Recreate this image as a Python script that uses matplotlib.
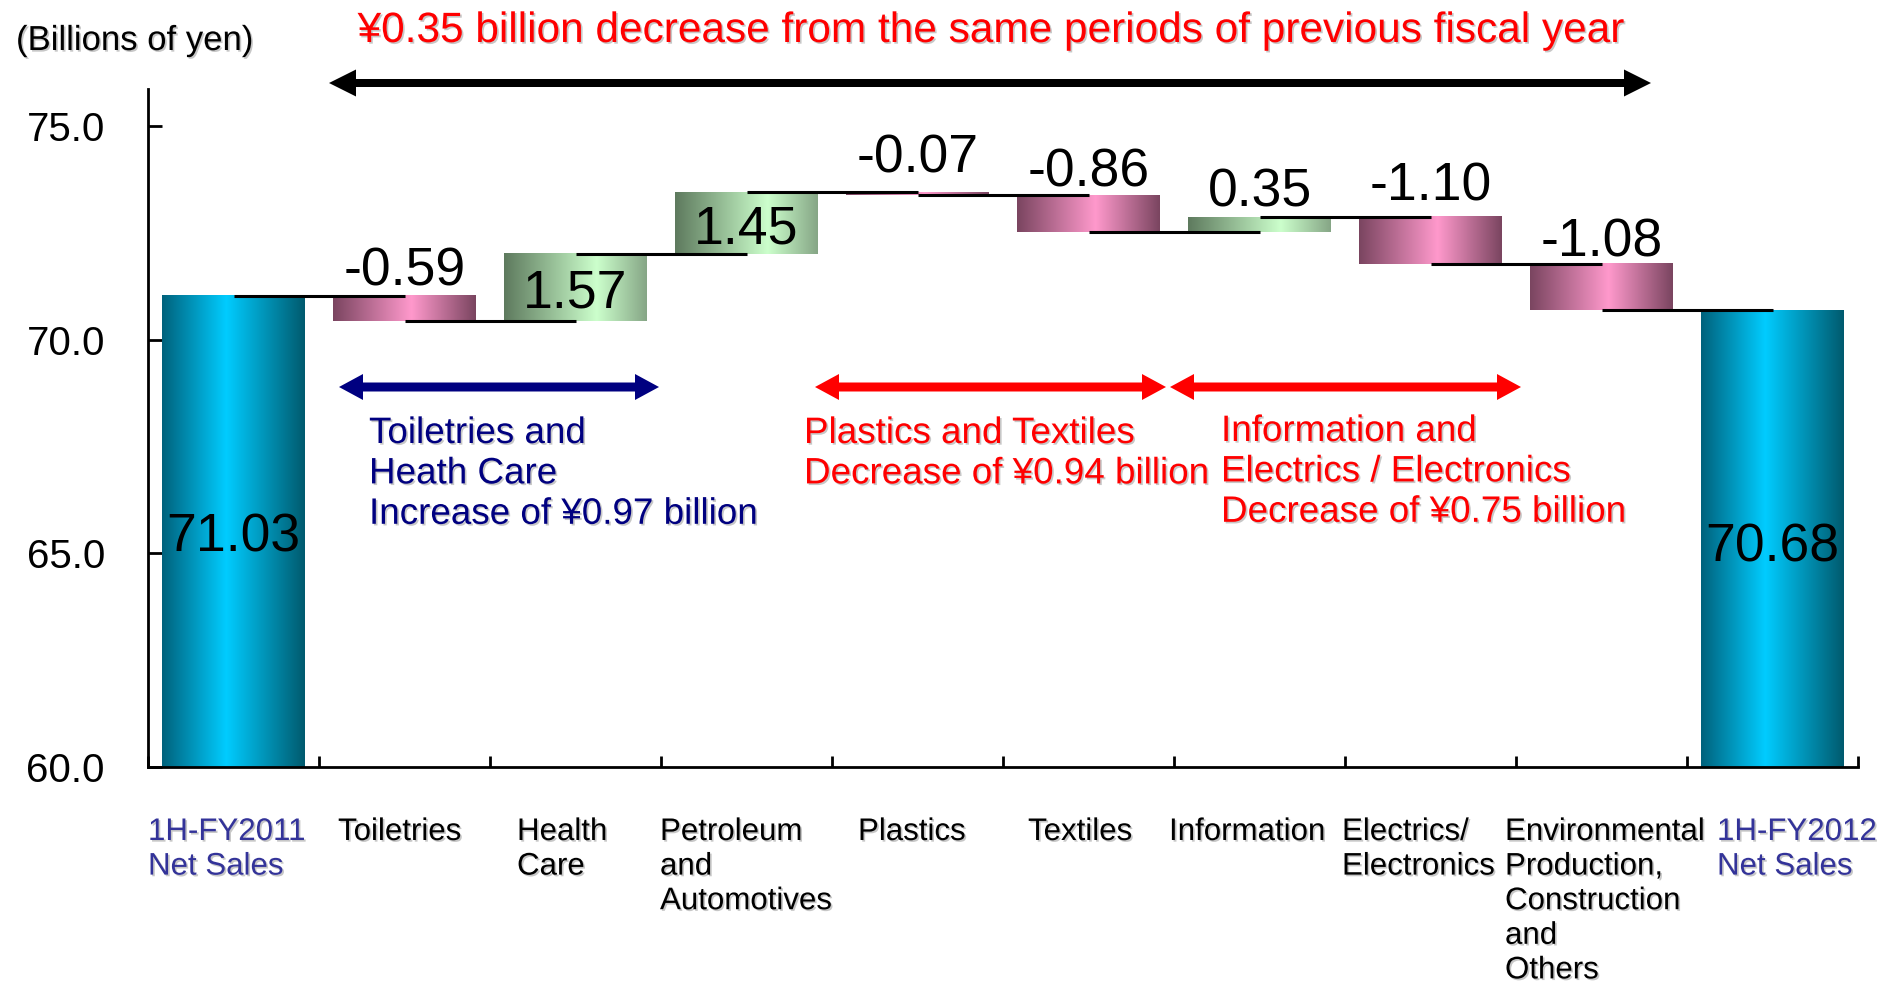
import matplotlib
matplotlib.use('Agg')
import matplotlib.pyplot as plt
import matplotlib.patheffects as pe
import matplotlib.transforms as mtransforms
from matplotlib.patches import Polygon
from matplotlib.colors import LinearSegmentedColormap
import numpy as np

plt.rcParams['font.family'] = ['Liberation Sans', 'DejaVu Sans']

# net sales bridge, billions of yen
categories = ['1H-FY2011\nNet Sales', 'Toiletries', 'Health\nCare',
              'Petroleum\nand\nAutomotives', 'Plastics', 'Textiles',
              'Information', 'Electrics/\nElectronics',
              'Environmental\nProduction,\nConstruction\nand\nOthers',
              '1H-FY2012\nNet Sales']
start_total = 71.03
changes = [-0.59, 1.57, 1.45, -0.07, -0.86, 0.35, -1.10, -1.08]
end_total = 70.68
yticks = [60.0, 65.0, 70.0, 75.0]

title = '¥0.35 billion decrease from the same periods of previous fiscal year'
note_toiletries = 'Toiletries and\nHeath Care\nIncrease of ¥0.97 billion'
note_plastics = 'Plastics and Textiles\nDecrease of ¥0.94 billion'
note_info = 'Information and\nElectrics / Electronics\nDecrease of ¥0.75 billion'

W, H = 1885, 985
fig = plt.figure(figsize=(W / 100, H / 100), dpi=100)
# pixel coordinates measured from the top-left corner
px = mtransforms.Affine2D().scale(1 / W, -1 / H).translate(0, 1) + fig.transFigure

ax = fig.add_axes([148 / W, 1 - 767 / H, 1710 / W, (767 - 89) / H])

cyan = LinearSegmentedColormap.from_list('cyan', [(0, '#00627C'), (0.45, '#00CCFF'), (1, '#005A6E')])
pink = LinearSegmentedColormap.from_list('pink', [(0, '#7A4560'), (0.55, '#FF99CC'), (1, '#7A4560')])
green = LinearSegmentedColormap.from_list('green', [(0, '#5E7A5E'), (0.65, '#CCFFCC'), (1, '#86A686')])


def gradient_bar(x0, x1, y0, y1, cmap):
    grad = np.linspace(0, 1, 256).reshape(1, -1)
    ax.imshow(grad, cmap=cmap, extent=(x0, x1, y0, y1), aspect='auto',
              interpolation='bilinear', zorder=2)


bw = 0.836
levels = [start_total]
for c in changes:
    levels.append(round(levels[-1] + c, 2))

# totals
for i, val in [(0, start_total), (len(categories) - 1, end_total)]:
    gradient_bar(i + 0.5 - bw / 2, i + 0.5 + bw / 2, 60, val, cyan)

# floating change bars
for k, c in enumerate(changes):
    i = k + 1
    lo, hi = sorted([levels[k], levels[k + 1]])
    gradient_bar(i + 0.5 - bw / 2, i + 0.5 + bw / 2, lo, hi, green if c > 0 else pink)

# connectors between neighbouring bars
for k, lv in enumerate(levels):
    ax.plot([k + 0.5, k + 1.5], [lv, lv], color='black', lw=2.2, zorder=3,
            solid_capstyle='butt')

# value labels
inside = [False, True, True, False, False, False, False, False]
gaps = [7, -4.5, -4.5, 14, 6, 7, 11.5, 5]
for k, c in enumerate(changes):
    i = k + 1
    lo, hi = sorted([levels[k], levels[k + 1]])
    txt = f'{c:.2f}'
    if inside[k]:
        ax.annotate(txt, xy=(i + 0.5, (lo + hi) / 2), xytext=(0, gaps[k]),
                    textcoords='offset points', ha='center', va='center',
                    fontsize=38.5, zorder=4)
    else:
        ax.annotate(txt, xy=(i + 0.5, hi), xytext=(0, gaps[k]),
                    textcoords='offset points', ha='center', va='baseline',
                    fontsize=38.5, zorder=4)
ax.text(0.5, 65.38, f'{start_total:.2f}', ha='center', va='center', fontsize=38.5, zorder=4)
ax.text(len(categories) - 0.5, 65.13, f'{end_total:.2f}', ha='center', va='center',
        fontsize=38.5, zorder=4)

ax.set_xlim(0, len(categories))
ax.set_ylim(60, 60 + (767 - 89) / 42.73)
ax.set_yticks(yticks)
ax.set_yticklabels([f'{v:.1f}' for v in yticks])
ax.set_xticks(range(len(categories) + 1))
ax.set_xticklabels([])
ax.tick_params(axis='y', direction='in', length=10, width=2, labelsize=29, pad=31)
ax.tick_params(axis='x', direction='in', length=8, width=2)
for s in ['top', 'right']:
    ax.spines[s].set_visible(False)
for s in ['left', 'bottom']:
    ax.spines[s].set_linewidth(2)

shadow = [pe.withSimplePatchShadow(offset=(1.2, -1.2), shadow_rgbFace='#b0b0b0', alpha=0.7)]

# category labels under the axis
label_x = [148, 338, 517, 660, 858, 1028, 1169, 1342, 1505, 1717]
for i, (lab, x) in enumerate(zip(categories, label_x)):
    col = '#333399' if i in (0, len(categories) - 1) else 'black'
    fig.text(x, 817, lab, transform=px, ha='left', va='top', fontsize=22.5,
             color=col, linespacing=1.2, path_effects=shadow)

fig.text(16, 50, '(Billions of yen)', transform=px, ha='left', va='baseline',
         fontsize=25, path_effects=shadow)
fig.text(991, 42, title, transform=px, ha='center', va='baseline', fontsize=30.5,
         color='#FF0000', path_effects=shadow)


def double_arrow(x0, x1, y, t, L, w, color):
    pts = [(x0, y), (x0 + L, y - w), (x0 + L, y - t), (x1 - L, y - t), (x1 - L, y - w),
           (x1, y), (x1 - L, y + w), (x1 - L, y + t), (x0 + L, y + t), (x0 + L, y + w)]
    fig.add_artist(Polygon(pts, closed=True, transform=px, facecolor=color,
                           edgecolor='none'))


double_arrow(329, 1651, 83, 4, 27, 13.5, 'black')
double_arrow(339, 659, 387, 4.5, 24, 13, '#000080')
double_arrow(815, 1166, 387, 4.5, 24, 13, '#FF0000')
double_arrow(1170, 1521, 387, 4.5, 24, 13, '#FF0000')

fig.text(369, 416, note_toiletries, transform=px, ha='left', va='top', fontsize=26.5,
         color='#000080', linespacing=1.2, path_effects=shadow)
fig.text(804, 416, note_plastics, transform=px, ha='left', va='top', fontsize=26.5,
         color='#FF0000', linespacing=1.2, path_effects=shadow)
fig.text(1221, 414, note_info, transform=px, ha='left', va='top', fontsize=26.5,
         color='#FF0000', linespacing=1.2, path_effects=shadow)

fig.savefig('out.png', dpi=100)
